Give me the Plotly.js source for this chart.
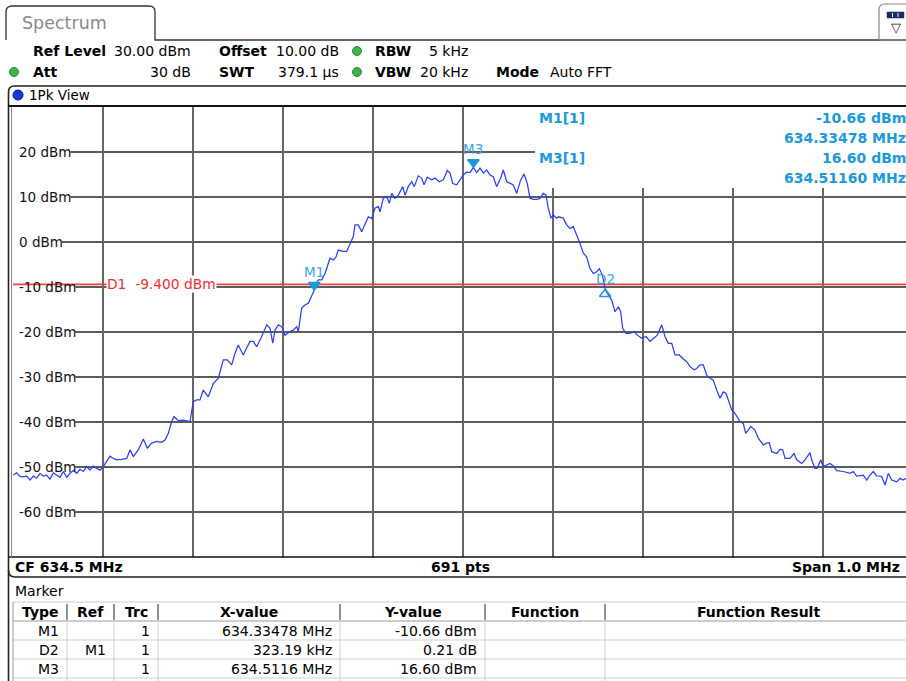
<!DOCTYPE html>
<html><head><meta charset="utf-8">
<script src="https://cdn.plot.ly/plotly-3.0.1.min.js"></script>
<style>html,body{margin:0;padding:0;background:#fff;}#chart{width:906px;height:681px;}</style>
</head><body><div id="chart"></div>
<script>
// ---------------- data ----------------
const freqMHz = [
634.0003,634.0041,634.0078,634.0114,634.0152,634.0189,634.0226,634.0263,634.0300,634.0337,
634.0374,634.0411,634.0448,634.0486,634.0522,634.0559,634.0597,634.0633,634.0670,634.0708,
634.0744,634.0781,634.0819,634.0856,634.0892,634.0930,634.0967,634.1003,634.1041,634.1078,
634.1114,634.1152,634.1208,634.1263,634.1300,634.1337,634.1392,634.1448,634.1492,634.1541,
634.1597,634.1652,634.1689,634.1726,634.1763,634.1789,634.1837,634.1892,634.1967,
634.2003,634.2041,634.2078,634.2114,634.2170,634.2226,634.2281,634.2337,634.2381,634.2430,
634.2467,634.2503,634.2559,634.2603,634.2633,634.2670,634.2708,634.2763,634.2819,634.2856,
634.2886,634.2911,634.2948,634.2986,634.3022,634.3078,634.3114,634.3152,634.3170,634.3208,
634.3244,634.3281,634.3319,634.3348,634.3392,634.3430,634.3467,634.3492,634.3522,634.3559,
634.3589,634.3614,634.3670,634.3708,634.3744,634.3781,634.3800,634.3837,634.3874,634.3911,
634.3948,634.3986,634.4022,634.4059,
634.4078,634.4114,634.4152,634.4181,634.4208,634.4244,634.4281,634.4330,634.4356,634.4392,
634.4430,634.4459,634.4503,634.4541,634.4567,634.4603,634.4652,634.4689,634.4737,634.4781,
634.4826,634.4856,634.4886,634.4930,634.4967,634.5003,634.5041,634.5078,634.5116,634.5152,
634.5189,634.5226,634.5263,634.5300,634.5337,634.5374,634.5419,634.5448,634.5486,634.5522,
634.5559,634.5597,634.5641,634.5678,634.5714,634.5744,634.5781,634.5819,634.5856,634.5892,
634.5922,634.5948,634.5978,634.6003,634.6041,
634.6059,634.6114,634.6152,634.6189,634.6226,634.6263,634.6300,634.6337,634.6374,634.6411,
634.6448,634.6486,634.6514,634.6548,634.6570,634.6580,634.6603,634.6652,634.6689,634.6726,
634.6752,634.6774,634.6811,634.6856,634.6900,634.6937,634.6986,634.7033,634.7078,634.7122,
634.7159,634.7208,634.7244,634.7281,634.7319,634.7356,634.7403,634.7441,634.7486,634.7522,
634.7567,634.7597,634.7633,634.7670,634.7708,634.7744,634.7781,634.7819,634.7856,634.7892,
634.7922,634.7948,634.7986,634.8022,
634.8078,634.8114,634.8141,634.8170,634.8197,634.8244,634.8281,634.8337,634.8374,634.8403,
634.8430,634.8486,634.8522,634.8552,634.8578,634.8633,634.8678,634.8708,634.8763,634.8800,
634.8856,634.8874,634.8911,634.8937,634.8974,634.9003,634.9041,634.9078,634.9122,634.9152,
634.9226,634.9300,634.9337,634.9374,634.9448,634.9486,634.9522,634.9559,634.9597,634.9652,
634.9689,634.9726,634.9763,634.9819,634.9856,634.9892,634.9922
];
const levelDbm = [
-51.8,-51.3,-52.1,-52.2,-52.0,-52.9,-52.0,-52.5,-51.4,-52.0,
-51.8,-52.7,-51.3,-51.8,-52.3,-51.0,-52.3,-51.4,-50.8,-51.4,
-50.5,-51.0,-49.9,-50.7,-49.8,-50.3,-50.7,-49.9,-48.8,-47.6,
-48.1,-48.4,-48.3,-48.1,-46.2,-47.7,-46.2,-43.8,-45.8,-44.7,
-44.3,-44.5,-44.0,-42.5,-39.9,-38.8,-39.7,-39.6,-39.9,
-35.5,-35.1,-35.1,-32.9,-34.4,-31.4,-30.3,-26.2,-26.2,-27.3,
-24.7,-22.9,-25.1,-23.3,-22.1,-22.1,-23.3,-21.0,-18.4,-19.2,
-22.5,-19.6,-18.4,-18.8,-20.7,-19.9,-19.6,-18.8,-19.9,-14.7,
-14.0,-13.6,-12.1,-10.66,-8.4,-8.4,-7.0,-5.5,-3.6,-4.0,
-3.3,-1.8,-2.1,-2.1,-0.3,1.2,3.8,3.8,2.3,3.8,
5.6,5.2,7.5,7.9,
6.7,9.7,10.1,8.6,10.8,9.7,10.4,12.3,10.4,12.3,
13.4,12.3,14.7,14.2,12.7,14.4,13.8,14.2,13.4,13.8,
15.9,15.3,13.0,12.7,13.8,14.9,15.5,15.4,16.6,15.4,
16.4,15.3,16.0,14.9,14.5,12.3,14.2,16.0,13.4,13.0,
12.7,10.8,13.8,15.1,13.0,9.7,9.5,9.5,9.7,10.8,
10.4,7.5,5.3,6.0,5.3,
5.6,5.3,3.8,3.0,3.4,1.6,-0.3,-2.5,-3.3,-5.9,
-7.0,-6.6,-5.9,-7.3,-9.6,-10.45,-11.4,-12.9,-15.5,-14.4,
-15.5,-19.2,-20.3,-20.3,-19.9,-20.7,-21.4,-21.0,-22.1,-21.4,
-20.7,-18.4,-21.0,-22.5,-22.5,-25.1,-25.1,-25.9,-26.6,-27.7,
-28.4,-28.1,-27.3,-27.3,-29.6,-30.3,-30.7,-32.9,-34.7,-33.3,
-33.6,-35.1,-37.3,-38.1,
-39.9,-40.3,-42.5,-41.8,-41.0,-41.8,-43.6,-45.1,-44.7,-44.6,
-46.6,-47.0,-46.1,-46.2,-48.1,-48.1,-47.0,-48.4,-49.2,-48.4,
-46.8,-48.4,-50.3,-50.3,-48.4,-49.9,-49.6,-49.2,-49.9,-50.8,
-51.0,-51.4,-51.0,-52.0,-51.8,-52.9,-51.8,-51.0,-52.0,-52.1,
-54.0,-51.4,-52.9,-53.3,-52.5,-52.9,-52.5
];
const centerMHz = 634.5;
const spanMHz = 1.0;
const refLevelDbm = 30;
const bottomDbm = -70;
const yTickValues = [20, 10, 0, -10, -20, -30, -40, -50, -60];
const yTickLabels = ['20 dBm','10 dBm','0 dBm','-10 dBm','-20 dBm','-30 dBm','-40 dBm','-50 dBm','-60 dBm'];
const displayLineName = 'D1';
const displayLineDbm = -9.4;
const displayLineLabel = 'D1\u00a0\u00a0-9.400 dBm';
const markerNames = ['M1', 'D2', 'M3'];
const markerFreqMHz = [634.33478, 634.65797, 634.5116];
const markerLevelDbm = [-10.66, -10.45, 16.60];
const markerInfoLabels = ['M1[1]', 'M3[1]'];
const markerInfoLevels = ['-10.66 dBm', '16.60 dBm'];
const markerInfoFreqs = ['634.33478 MHz', '634.51160 MHz'];
const tableHeaders = ['Type', 'Ref', 'Trc', 'X-value', 'Y-value', 'Function', 'Function Result'];
const tableType = ['M1', 'D2', 'M3'];
const tableRef = ['', 'M1', ''];
const tableTrc = ['1', '1', '1'];
const tableX = ['634.33478 MHz', '323.19 kHz', '634.5116 MHz'];
const tableY = ['-10.66 dBm', '0.21 dB', '16.60 dBm'];
const footer = ['CF 634.5 MHz', '691 pts', 'Span 1.0 MHz'];

// ---------------- layout helpers (pixel -> paper) ----------------
const W = 906, H = 681;
const F = '"DejaVu Sans", Verdana, sans-serif';
const X = p => p / W, Y = p => 1 - p / H;
const ann = [], shp = [];
function T(text, x, y, o = {}) {
  const a = {text: o.bold ? '<b>' + text + '</b>' : text, xref: 'paper', yref: 'paper', x: X(x), y: Y(y),
    xanchor: o.anchor || 'left', yanchor: 'middle', showarrow: false,
    font: {family: F, size: o.size || 14, color: o.color || '#000'}};
  if (o.bg) { a.bgcolor = o.bg; a.borderpad = 1; }
  ann.push(a); return a;
}
function L(x0, y0, x1, y1, color, width, layer) {
  shp.push({type: 'line', xref: 'paper', yref: 'paper', x0: X(x0), y0: Y(y0), x1: X(x1), y1: Y(y1),
    line: {color: color, width: width}, layer: layer || 'above'});
}
function R(x0, y0, x1, y1, fill, lc, lw, layer) {
  shp.push({type: 'rect', xref: 'paper', yref: 'paper', x0: X(x0), y0: Y(y1), x1: X(x1), y1: Y(y0),
    fillcolor: fill, line: {color: lc || fill, width: lw || 0}, layer: layer || 'above'});
}
function C(cx, cy, r, fill, lc) {
  shp.push({type: 'circle', xref: 'paper', yref: 'paper', x0: X(cx - r), x1: X(cx + r), y0: Y(cy + r), y1: Y(cy - r),
    fillcolor: fill, line: {color: lc, width: 1}, layer: 'above'});
}
function P(pts, color, width) {
  let d = '';
  pts.forEach((p, i) => { d += (p[0] === 'Q' ? 'Q' + X(p[1]) + ',' + Y(p[2]) + ' ' + X(p[3]) + ',' + Y(p[4]) : (i ? 'L' : 'M') + X(p[0]) + ',' + Y(p[1])) + ' '; });
  shp.push({type: 'path', xref: 'paper', yref: 'paper', path: d.trim(), line: {color: color, width: width}, layer: 'above'});
}
const ctx = document.createElement('canvas').getContext('2d');
function textW(t, size, bold) { ctx.font = (bold ? 'bold ' : '') + size + 'px "DejaVu Sans"'; return ctx.measureText(t).width; }

// ---------------- header ----------------
P([[6, 40], [6, 12], ['Q', 6, 6, 12, 6], [149, 6], ['Q', 155, 6, 155, 12], [155, 40], [880, 40]], '#333', 1.3);
L(880, 40, 906, 40, '#333', 1.3);
T('Spectrum', 20, 23, {size: 17.5, color: '#8a8a8a'});
P([[879, 40], [879, 10], ['Q', 879, 4, 885, 4], [912, 4]], '#888', 1.2);
R(887, 12, 904, 18, '#1a2a6a', '#1a2a6a', 0.5);
L(892.5, 13, 892.5, 17, '#fff', 1); L(898, 13, 898, 17, '#fff', 1);
T('\u25BD', 896, 28, {size: 13, anchor: 'center', color: '#222'});

T('Ref Level', 31, 51, {bold: 1});
T('30.00 dBm', 193, 51, {anchor: 'right'});
T('Offset', 217, 51, {bold: 1});
T('10.00 dB', 341, 51, {anchor: 'right'});
T('RBW', 373, 51, {bold: 1});
T('5 kHz', 470, 51, {anchor: 'right'});
T('Att', 31, 72, {bold: 1});
T('30 dB', 193, 72, {anchor: 'right'});
T('SWT', 217, 72, {bold: 1});
T('379.1 µs', 341, 72, {anchor: 'right'});
T('VBW', 373, 72, {bold: 1});
T('20 kHz', 470, 72, {anchor: 'right'});
T('Mode', 494, 72, {bold: 1});
T('Auto FFT', 548, 72);
C(357, 51, 4.5, '#3cb54a', '#2b8a35');
C(357, 72, 4.5, '#3cb54a', '#2b8a35');
C(14, 72, 4.5, '#3cb54a', '#2b8a35');

// ---------------- view box ----------------
P([[8.5, 681], [8.5, 92], ['Q', 8.5, 86, 14.5, 86], [912, 86]], '#222', 1.6);
L(8.5, 106, 912, 106, '#111', 2);
L(8.5, 557, 912, 557, '#111', 1.6);
P([[8.5, 570], ['Q', 8.5, 577, 15, 577], [912, 577]], '#222', 1.6);
L(11.5, 107, 11.5, 557, '#888', 1);
C(18, 95, 5, '#1636e6', '#0a1870');
T('1Pk View', 27, 95, {size: 13.5});

// marker info box (covers gridlines)
R(535, 107, 915, 188, '#ffffff', '#ffffff', 0, 'above');

// y tick labels + horizontal grid lines starting after labels
yTickValues.forEach((v, i) => {
  const w = textW(yTickLabels[i], 13.5, false);
  ann.push({text: yTickLabels[i], xref: 'paper', yref: 'y', x: X(17), y: v, xanchor: 'left', yanchor: 'middle',
    showarrow: false, font: {family: F, size: 13.5, color: '#111'}});
  shp.push({type: 'line', xref: 'paper', yref: 'y', x0: X(17 + w + 1), x1: 1, y0: v, y1: v,
    line: {color: '#262626', width: 1.3}, layer: 'below'});
});

// display line label
ann.push({text: displayLineLabel, xref: 'paper', yref: 'y', x: X(106), y: displayLineDbm, xanchor: 'left', yanchor: 'middle',
  showarrow: false, bgcolor: '#ffffff', borderpad: 0, font: {family: F, size: 13.8, color: '#f03030'}});

// marker labels
markerNames.forEach((m, i) => {
  ann.push({text: m, xref: 'x', yref: 'y', x: markerFreqMHz[i], y: markerLevelDbm[i], xanchor: 'center', yanchor: 'middle',
    yshift: m.charAt(0) === 'D' ? 10 : 18, showarrow: false, font: {family: F, size: 13.5, color: '#3aa6e6'}});
});
// marker info text
markerInfoLabels.forEach((m, i) => {
  const y0 = 118 + i * 40;
  T(m, 537, y0, {bold: 1, color: '#1c98dc'});
  T(markerInfoLevels[i], 908, y0, {bold: 1, color: '#1c98dc', anchor: 'right'});
  T(markerInfoFreqs[i], 908, y0 + 20, {bold: 1, color: '#1c98dc', anchor: 'right'});
});

// footer
T(footer[0], 13, 567, {bold: 1});
T(footer[1], 460, 567, {bold: 1, anchor: 'center'});
T(footer[2], 902, 567, {bold: 1, anchor: 'right'});

// ---------------- marker table ----------------
T('Marker', 13, 591);
const colX = [13, 67, 114, 158, 340, 485, 605, 912];
const rowY = [602, 621, 640, 659, 678];
L(13, 602, 912, 602, '#cfcfcf', 1);
L(13, 621, 912, 621, '#9a9a9a', 1);
rowY.slice(2).forEach(y => L(13, y, 912, y, '#cfcfcf', 1));
L(13, 602, 13, 681, '#9a9a9a', 1);
colX.slice(1, 7).forEach(x => { L(x, 604, x, 620, '#555', 1.3); L(x, 621, x, 681, '#cfcfcf', 1); });
tableHeaders.forEach((h, i) => T(h, (colX[i] + colX[i + 1]) / 2, 612, {bold: 1, anchor: 'center'}));
const cols = [tableType, tableRef, tableTrc, tableX, tableY];
cols.forEach((col, c) => col.forEach((v, r) => {
  if (v) T(v, colX[c + 1] - 6, 631 + r * 19, {anchor: 'right'});
}));

// ---------------- traces ----------------
const xEnd = centerMHz - spanMHz / 2 + spanMHz * (893 / 900);
const traces = [
  {x: [centerMHz - spanMHz / 2, centerMHz + spanMHz / 2], y: [displayLineDbm, displayLineDbm], type: 'scatter', mode: 'lines',
   name: displayLineName, line: {color: '#f54040', width: 1.8}, hoverinfo: 'skip'},
  {x: freqMHz, y: levelDbm, type: 'scatter', mode: 'lines', name: 'Trace 1',
   line: {color: '#2a40f5', width: 1.25}, hoverinfo: 'skip'},
  {x: markerFreqMHz, y: markerLevelDbm, type: 'scatter', mode: 'markers', name: 'Markers', hoverinfo: 'skip', cliponaxis: false,
   marker: {symbol: markerNames.map(m => m.charAt(0) === 'D' ? 'triangle-up-open' : 'triangle-up'),
            angle: markerNames.map(m => m.charAt(0) === 'D' ? 0 : 180),
            standoff: 5, size: 10, color: '#1c98dc', line: {color: '#1c98dc', width: 1.5}}}
];

const layout = {
  width: W, height: H, margin: {l: 0, r: 0, t: 0, b: 0, pad: 0},
  paper_bgcolor: '#ffffff', plot_bgcolor: 'rgba(0,0,0,0)', showlegend: false,
  xaxis: {domain: [X(13), 1], range: [centerMHz - spanMHz / 2, xEnd], tick0: centerMHz - spanMHz / 2, dtick: spanMHz / 10,
          showgrid: true, gridcolor: '#666666', gridwidth: 1.7, zeroline: false, showline: false,
          showticklabels: false, ticks: '', fixedrange: true},
  yaxis: {domain: [1 - 557 / H, 1 - 107 / H], range: [bottomDbm, refLevelDbm], dtick: 10,
          showgrid: false, zeroline: false, showline: false, showticklabels: false, ticks: '', fixedrange: true},
  shapes: shp, annotations: ann
};
Plotly.newPlot('chart', traces, layout, {staticPlot: true, displayModeBar: false});
</script>
</body></html>
